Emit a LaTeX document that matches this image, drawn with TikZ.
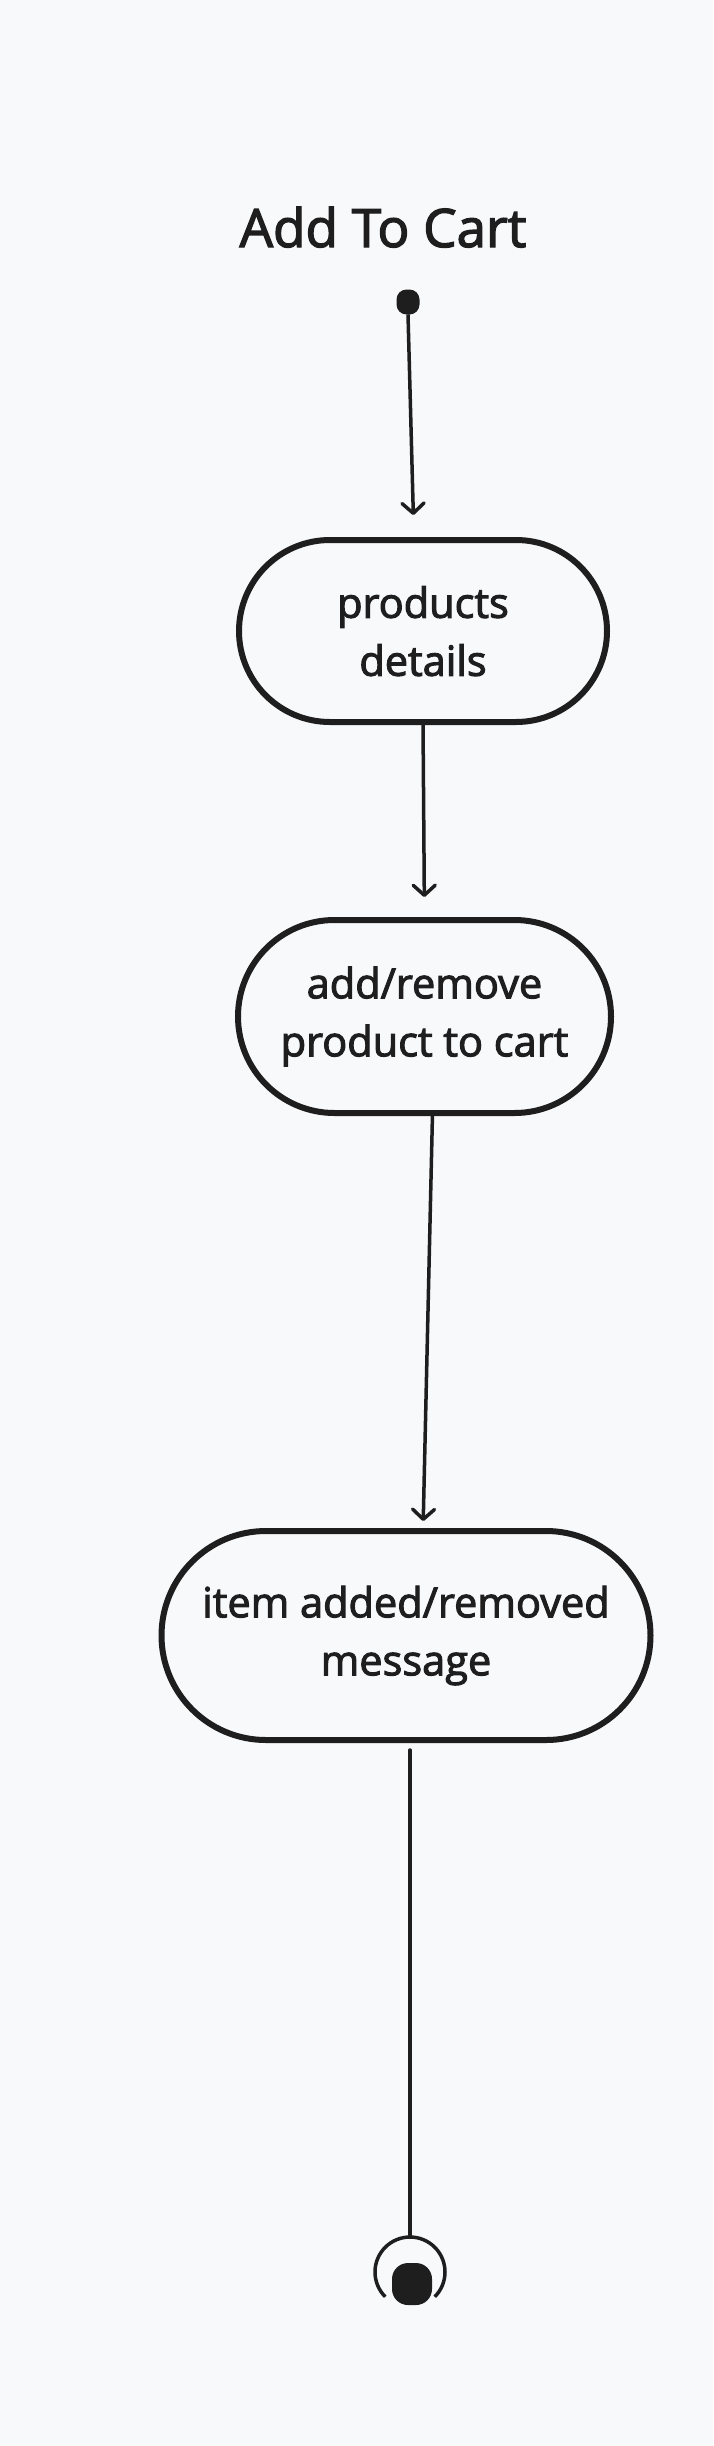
\documentclass[tikz,border=0pt]{standalone}
\usepackage{fontspec}
\setmainfont{Open Sans}[BoldFont={Open Sans}, BoldFeatures={FakeBold=2.5}]
\usetikzlibrary{shapes.misc,arrows.meta,calc}
\definecolor{ink}{HTML}{1E1E1E}
\definecolor{bg}{RGB}{248,249,251}
\begin{document}
\begin{tikzpicture}[x=1pt,y=1pt,
  statebox/.style={draw=ink, line width=6pt, rounded rectangle, outer sep=0pt, inner sep=0pt, align=center, text=ink, font=\fontsize{41.5}{58}\selectfont\bfseries},
  conn/.style={draw=ink, line width=3.5pt, -{Straight Barb[length=10pt,width=22pt,line cap=round,line join=round]}},
  plainline/.style={draw=ink, line width=3.5pt, line cap=round},
  dotstyle/.style={fill=ink, inner sep=0pt, outer sep=0pt, rounded corners=#1},
]
\fill[bg] (0,0) rectangle (713,-2446);
\useasboundingbox (0,0) rectangle (713,-2446);
\node[text=ink, font=\fontsize{53}{66}\selectfont\bfseries, anchor=base] (title) at (383,-247) {Add To Cart};
\node[dotstyle=10pt, minimum width=23pt, minimum height=25pt] (start) at (408,-302) {};
\node[statebox, minimum width=368pt, minimum height=182pt, text depth=0pt] (b1) at (423,-631) {products\\details};
\node[statebox, minimum width=373pt, minimum height=193pt] (b2) at (424.5,-1016.5) {add/remove\\product to cart};
\node[statebox, minimum width=489pt, minimum height=209pt] (b3) at (406,-1635.5) {item added/removed\\message};
\node[circle, minimum size=70pt, inner sep=0pt, outer sep=0pt] (fin) at (410,-2272) {};
\node[dotstyle=16pt, minimum width=40pt, minimum height=42pt] (findot) at (412,-2284) {};
\draw[ink, line width=3.5pt] (fin.center) ++(-45:35pt) arc[start angle=-45, end angle=225, radius=35pt];
\draw[conn, shorten >=25pt] (start.south) -- ($(b1.north)+(-9,0)$);
\draw[conn, shorten >=23pt] (b1.south) -- (b2.north);
\draw[conn, shorten >=10pt] ($(b2.south)+(8,0)$) -- ($(b3.north)+(17,0)$);
\draw[plainline, shorten <=10pt] ($(b3.south)+(4,0)$) -- (fin.north);
\end{tikzpicture}
\end{document}
